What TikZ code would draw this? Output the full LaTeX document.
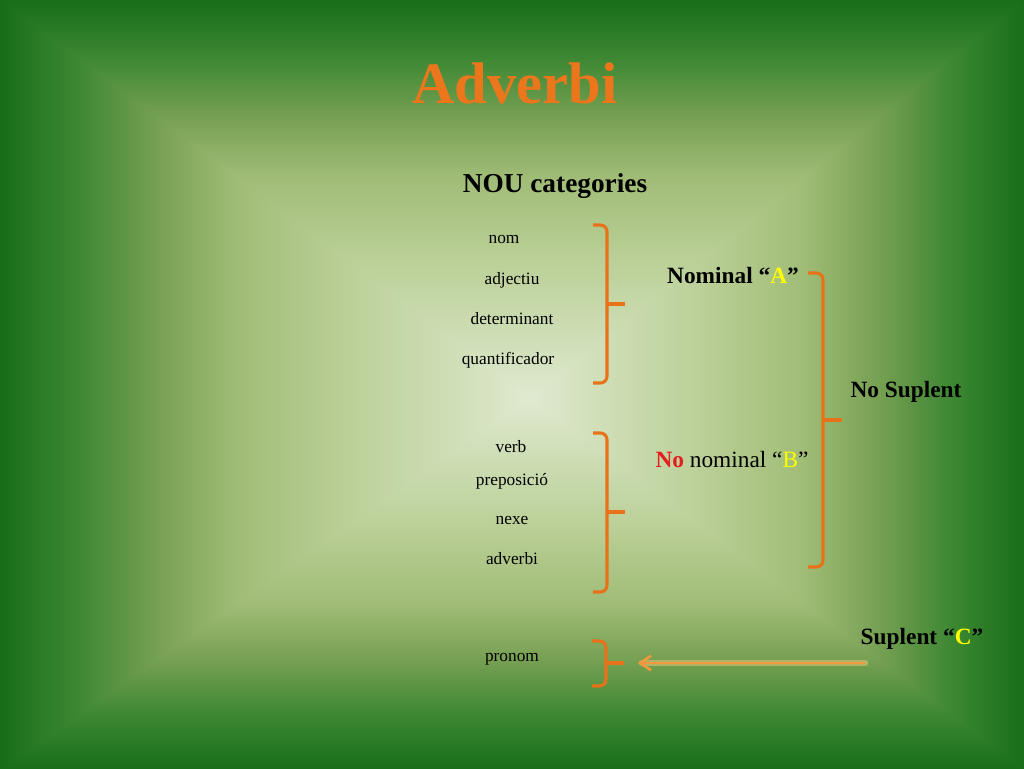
\documentclass[tikz,border=0pt]{standalone}
\usepackage{fontspec}
\setmainfont{Liberation Serif}
\usetikzlibrary{arrows.meta,calc}
\definecolor{s0}{RGB}{22,108,24}
\definecolor{s1}{RGB}{60,135,50}
\definecolor{s2}{RGB}{118,160,82}
\definecolor{s3}{RGB}{160,188,118}
\definecolor{s4}{RGB}{186,207,150}
\definecolor{s5}{RGB}{206,222,182}
\definecolor{s6}{RGB}{224,234,208}
\definecolor{titleorange}{RGB}{236,118,28}
\definecolor{braceorange}{RGB}{232,114,26}
\definecolor{arroworange}{RGB}{242,152,62}
\definecolor{glow}{RGB}{252,206,130}
\definecolor{noRed}{RGB}{228,30,28}
\definecolor{yel}{RGB}{255,255,0}
\pgfdeclareverticalshading{bgv}{100bp}{color(0bp)=(s6); color(25bp)=(s6); color(32.5bp)=(s5); color(42.5bp)=(s4); color(52.5bp)=(s3); color(60bp)=(s2); color(67.5bp)=(s1); color(75bp)=(s0); color(100bp)=(s0)}
\tikzset{
  item/.style={font=\fontsize{13}{15}\selectfont, inner sep=0pt, anchor=base, text=black},
  lbl/.style={font=\bfseries\fontsize{17.5}{21}\selectfont, inner sep=0pt, anchor=base, text=black},
  brace/.style={draw=braceorange, line width=2.3pt, rounded corners=5pt},
  bracetip/.style={draw=braceorange, line width=2.3pt},
}
\begin{document}
\begin{tikzpicture}[x=0.75pt,y=-0.75pt]
\useasboundingbox (0,0) rectangle (1024,768);
\coordinate (C) at (530,398);
\shade[shading=bgv, shading angle=90] (-4,-4) rectangle (530,772);
\shade[shading=bgv, shading angle=270] (530,-4) rectangle (1028,772);
\begin{scope}\clip (-4,-4) -- (1028,-4) -- (C) -- cycle;
  \shade[shading=bgv] (-4,-4) rectangle (1028,398);\end{scope}
\begin{scope}\clip (-4,772) -- (1028,772) -- (C) -- cycle;
  \shade[shading=bgv, shading angle=180] (-4,398) rectangle (1028,772);\end{scope}

% title
\node[font=\bfseries\fontsize{44}{50}\selectfont, text=titleorange, inner sep=0pt, anchor=base] (title) at (515,103) {Adverbi};
\node[font=\bfseries\fontsize{20.5}{24}\selectfont, inner sep=0pt, anchor=base] (nou) at (555,192) {NOU categories};

% items
\node[item] (nom) at (504,243) {nom};
\node[item] (adj) at (512,284) {adjectiu};
\node[item] (det) at (512,324) {determinant};
\node[item] (quant) at (508,364) {quantificador};
\node[item] (verb) at (511,452) {verb};
\node[item] (prep) at (512,485) {preposició};
\node[item] (nexe) at (512,524) {nexe};
\node[item] (adv) at (512,564) {adverbi};
\node[item] (pron) at (512,661) {pronom};

% labels
\node[lbl] (nomA) at (733,283) {Nominal “\textcolor{yel}{A}”};
\node[lbl] (nosup) at (906,397) {No Suplent};
\node[lbl, font=\fontsize{17.5}{21}\selectfont] (nonomB) at (732,467) {\textcolor{noRed}{\bfseries No} nominal “\textcolor{yel}{B}”};
\node[lbl] (supC) at (922,644) {Suplent “\textcolor{yel}{C}”};

% brackets
\draw[brace] (593,225) -- (607,225) -- (607,383) -- (593,383);
\draw[bracetip] (607,304) -- (625,304);
\draw[brace] (593,433) -- (607,433) -- (607,592) -- (593,592);
\draw[bracetip] (607,512) -- (625,512);
\draw[brace] (808,273) -- (823,273) -- (823,567) -- (808,567);
\draw[bracetip] (823,420) -- (842,420);
\draw[brace] (592,641) -- (606,641) -- (606,686) -- (592,686);
\draw[bracetip] (606,663) -- (624,663);

% arrow
\coordinate (astart) at (865,663);
\coordinate (aend) at (638,663);
\draw[glow, line width=5pt, opacity=0.45, line cap=round] (astart) -- ($(aend)+(4,0)$);
\draw[arroworange, line width=2pt, -{Straight Barb[length=8pt,width=11pt]}] (astart) -- (aend);
\end{tikzpicture}
\end{document}
